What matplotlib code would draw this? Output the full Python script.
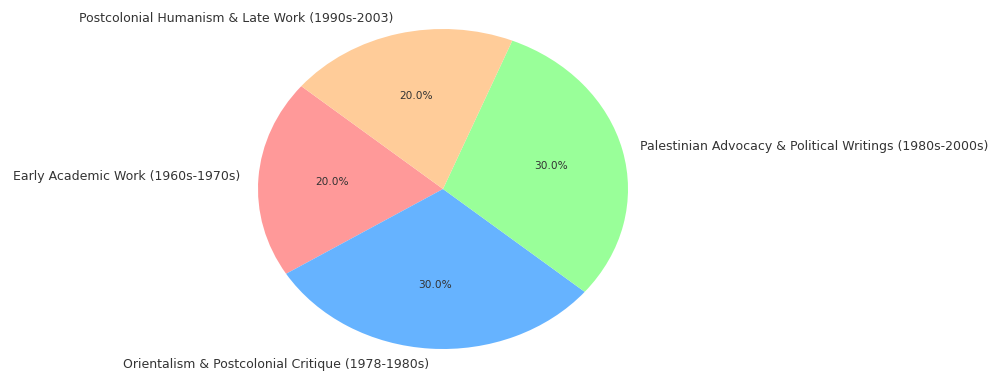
import matplotlib
matplotlib.use("Agg")
import matplotlib.pyplot as plt

categories = [
    "Early Academic Work (1960s-1970s)",
    "Orientalism & Postcolonial Critique (1978-1980s)",
    "Palestinian Advocacy & Political Writings (1980s-2000s)",
    "Postcolonial Humanism & Late Work (1990s-2003)",
]
shares = [20, 30, 30, 20]
colors = ["#ff9999", "#66b3ff", "#99ff99", "#ffcc99"]

W, H = 995, 375
fig = plt.figure(figsize=(W / 100, H / 100), dpi=100)
ax = fig.add_axes([0, 0, 1, 1])
wedges, texts, autotexts = ax.pie(
    shares, labels=categories, colors=colors, autopct="%1.1f%%",
    startangle=140, textprops={"fontsize": 9.0, "color": "#333333"},
)
for t in autotexts:
    t.set_fontsize(7.6)
ax.set_aspect("auto")
cx, cy, rx, ry = 443, 186, 185, 160
ax.set_xlim(-cx / rx, (W - cx) / rx)
ax.set_ylim(-cy / ry, (H - cy) / ry)
fig.savefig("out.png", dpi=100)
